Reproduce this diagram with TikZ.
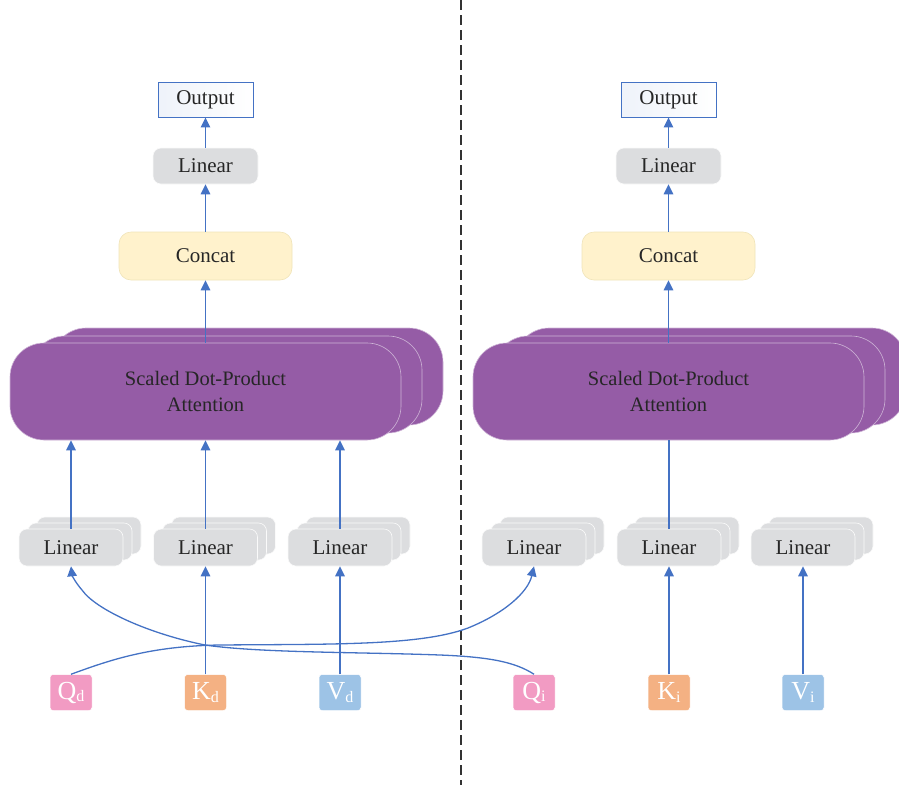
\documentclass[tikz,border=0pt]{standalone}
\usepackage{fontspec}
\setmainfont{Liberation Serif}
\usetikzlibrary{arrows.meta}
\definecolor{arr}{RGB}{68,114,196}
\definecolor{lingray}{RGB}{220,221,223}
\definecolor{concatfill}{RGB}{255,242,204}
\definecolor{concatdraw}{RGB}{240,228,185}
\definecolor{attn}{RGB}{149,92,166}
\definecolor{qcol}{RGB}{242,155,195}
\definecolor{kcol}{RGB}{244,177,131}
\definecolor{vcol}{RGB}{157,195,230}
\definecolor{txt}{RGB}{38,38,38}
\tikzset{
  conn/.style={draw=arr, line width=1.3pt, -{Triangle[length=10pt,width=9.5pt]}},
  plainconn/.style={draw=arr, line width=1.3pt},
  outbox/.style={draw=arr, line width=0.9pt, left color=arr!9, right color=white, minimum width=95pt, minimum height=35pt, inner sep=0pt, text=txt, font=\fontsize{21}{24}\selectfont},
  linbox/.style={fill=lingray, draw=white!85!lingray, line width=0.6pt, rounded corners=8pt, minimum width=105pt, minimum height=36pt, inner sep=0pt, text=txt, font=\fontsize{21}{24}\selectfont},
  concatbox/.style={fill=concatfill, draw=concatdraw, line width=0.6pt, rounded corners=12pt, minimum width=173pt, minimum height=48pt, inner sep=0pt, text=txt, font=\fontsize{21}{24}\selectfont},
  attnbox/.style={fill=attn, draw=white!55!attn, line width=0.6pt, rounded corners=34pt, minimum width=391pt, minimum height=97pt, inner sep=0pt, text=txt, align=center, font=\fontsize{20.5}{26}\selectfont},
  inbox/.style={draw=white!60, line width=0.5pt, rounded corners=3pt, minimum width=42pt, minimum height=36pt, inner sep=0pt, text=white, font=\fontsize{26}{26}\selectfont},
}
\newcommand{\insub}[2]{#1\raisebox{-2.5pt}{\fontsize{16}{16}\selectfont #2}}
\begin{document}
\begin{tikzpicture}[x=1pt, y=-1pt]
\useasboundingbox (0,0) rectangle (899,785);
\draw[draw=black!80, line width=1.4pt, dash pattern=on 10pt off 5pt] (461,0) coordinate (dtop) -- (461,785) coordinate (dbot);

\foreach \p/\dx in {L/0, R/463} {
  % output, linear, concat
  \node[outbox] (out\p) at (205.5+\dx,99.5) {Output};
  \node[linbox] (lin\p) at (205.5+\dx,166) {Linear};
  \node[concatbox] (cat\p) at (205.5+\dx,256) {Concat};
  % attention stack
  \node[attnbox] (attC\p) at (247.5+\dx,376.5) {};
  \node[attnbox] (attB\p) at (226.5+\dx,384.5) {};
  \node[attnbox] (att\p) at (205.5+\dx,391.5) {Scaled Dot-Product\\Attention};
  \draw[conn] (att\p.north) -- (cat\p.south);
  \draw[conn] (cat\p.north) -- (lin\p.south);
  \draw[conn] (lin\p.north) -- (out\p.south);
}
% bottom linear stacks
\foreach \n/\x in {qL/71, kL/205.5, vL/340, qR/534, kR/669, vR/803} {
  \node[linbox, minimum width=104pt, minimum height=37pt] (\n c) at (\x+18,535.5) {};
  \node[linbox, minimum width=104pt, minimum height=37pt] (\n b) at (\x+9,541.5) {};
  \node[linbox, minimum width=104pt, minimum height=37pt] (\n) at (\x,547.5) {Linear};
}
% inputs
\node[inbox, fill=qcol] (Qd) at (71,692.5) {\insub{Q}{d}};
\node[inbox, fill=kcol] (Kd) at (205.5,692.5) {\insub{K}{d}};
\node[inbox, fill=vcol] (Vd) at (340,692.5) {\insub{V}{d}};
\node[inbox, fill=qcol] (Qi) at (534,692.5) {\insub{Q}{i}};
\node[inbox, fill=kcol] (Ki) at (669,692.5) {\insub{K}{i}};
\node[inbox, fill=vcol] (Vi) at (803,692.5) {\insub{V}{i}};

% linear -> attention
\draw[conn] (qL.north) -- (qL.north |- attL.south);
\draw[conn] (kL.north) -- (kL.north |- attL.south);
\draw[conn] (vL.north) -- (vL.north |- attL.south);
\draw[plainconn] (kR.north) -- (kR.north |- attR.south);

% inputs -> linear
\draw[conn] (Kd.north) -- (kL.south);
\draw[conn] (Vd.north) -- (vL.south);
\draw[conn] (Ki.north) -- (kR.south);
\draw[conn] (Vi.north) -- (vR.south);

% crossing curves
\draw[conn] (Qd.north) .. controls (110,660) and (150,646) .. (220,645)
  .. controls (330,644) and (420,646) .. (468,628)
  .. controls (505,613) and (528,592) .. (qR.south);
\draw[conn] (Qi.north) .. controls (515,662) and (490,657) .. (440,655)
  .. controls (360,652) and (260,653) .. (205,645)
  .. controls (150,634) and (96,610) .. (82,590)
  .. controls (75,582) and (72,575) .. (qL.south);
\end{tikzpicture}
\end{document}
